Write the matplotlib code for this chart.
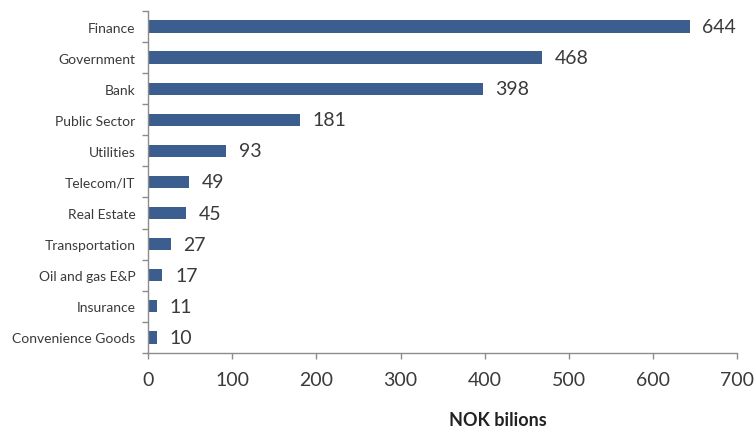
import matplotlib
matplotlib.use("Agg")
import matplotlib.pyplot as plt
import numpy as np

sectors = ["Finance", "Government", "Bank", "Public Sector", "Utilities",
           "Telecom/IT", "Real Estate", "Transportation", "Oil and gas E&P",
           "Insurance", "Convenience Goods"]
amounts = [644, 468, 398, 181, 93, 49, 45, 27, 17, 11, 10]
x_ticks = [0, 100, 200, 300, 400, 500, 600, 700]

plt.rcParams["font.family"] = ["Lato", "DejaVu Sans"]
text_color = "#3a3a3a"
axis_color = "#8c8c8c"
bar_color = "#3b5e8e"

fig = plt.figure(figsize=(7.56, 4.31), dpi=100)
ax = fig.add_axes([0.196, 0.179, 0.779, 0.793])

pos = np.arange(len(sectors))
ax.barh(pos, amounts, height=0.4, color=bar_color)

for p, v in zip(pos, amounts):
    ax.annotate(str(v), xy=(v, p), xytext=(9, 0), textcoords="offset points",
                va="center", ha="left", fontsize=14, color=text_color)

ax.set_xlim(0, 700)
ax.set_ylim(len(sectors) - 0.5, -0.5)
ax.set_xticks(x_ticks)
ax.set_xticklabels([str(t) for t in x_ticks], fontsize=14, color=text_color)
ax.set_yticks(pos)
ax.set_yticklabels(sectors, fontsize=10, color=text_color)
ax.set_yticks(np.arange(-0.5, len(sectors)), minor=True)

ax.tick_params(axis="y", which="major", length=0, pad=9)
ax.tick_params(axis="y", which="minor", length=4, width=1, color=axis_color, direction="out")
ax.tick_params(axis="x", which="major", length=4, width=1, color=axis_color, direction="out", pad=9)

for side in ["top", "right"]:
    ax.spines[side].set_visible(False)
for side in ["left", "bottom"]:
    ax.spines[side].set_color(axis_color)
    ax.spines[side].set_linewidth(1)

fig.text(0.658, 0.025, "NOK bilions", ha="center", va="center",
         fontsize=13, fontweight="bold", color="#222222")

fig.savefig("out.png", dpi=100, facecolor="white")
